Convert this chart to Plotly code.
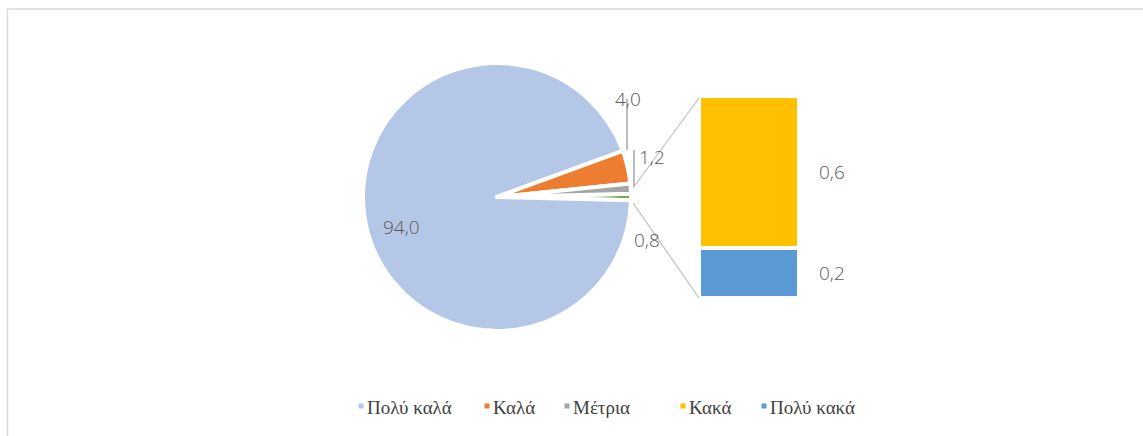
import math
import plotly.graph_objects as go

# ---- data -------------------------------------------------------------
pie_labels = ["Πολύ καλά", "Καλά", "Μέτρια"]
pie_values = [94.0, 4.0, 1.2]
bar_labels = ["Κακά", "Πολύ κακά"]
bar_values = [0.6, 0.2]
other_value = round(sum(bar_values), 1)  # "other" slice = sum of the bar part

# ---- styling ----------------------------------------------------------
pie_colors = ["#B4C7E7", "#ED7D31", "#A5A5A5"]
other_color = "#70AD47"
bar_colors = ["#FFC000", "#5B9BD5"]
label_color = "#595959"
label_font = dict(family="Open Sans", size=19, color=label_color, weight=300)
legend_font = dict(family="Liberation Serif, DejaVu Serif, serif", size=19, color="#404040")
W, H = 1143, 436

def fx(px):
    return px / W

def fy(py):
    return 1 - py / H

def fmt(v):
    return f"{v:.1f}".replace(".", ",")

# pie geometry (pixels)
cx, cy, r = 497, 197, 134
total = other_value + sum(pie_values)
half_other = 360 * other_value / total / 2

fig = go.Figure()

# pie: "other" slice centred on 3 o'clock, remaining slices clockwise after it
fig.add_trace(go.Pie(
    values=[other_value] + pie_values,
    labels=["Άλλα"] + pie_labels,
    marker=dict(colors=[other_color] + pie_colors, line=dict(color="white", width=4)),
    sort=False,
    direction="clockwise",
    rotation=90 - half_other,
    textinfo="none",
    hoverinfo="label+value",
    showlegend=False,
    domain=dict(x=[fx(cx - r), fx(cx + r)], y=[fy(cy + r), fy(cy - r)]),
))

# stacked bar breaking down the "other" slice (bottom segment first)
bar_left, bar_right, bar_top, bar_bottom = 699, 799, 96, 298
for lab, val, col in reversed(list(zip(bar_labels, bar_values, bar_colors))):
    fig.add_trace(go.Bar(
        x=[0], y=[val], name=lab, width=1,
        marker=dict(color=col, line=dict(color="white", width=4)),
        showlegend=False, hoverinfo="name+y",
        xaxis="x", yaxis="y",
    ))

annotations = []
shapes = []

# pie value labels (offsets from pie centre, px)
pie_label_pos = {
    "Πολύ καλά": (-96, 30),
    "Καλά": (131, -113),
    "Μέτρια": (155, -55),
}
for lab, val in zip(pie_labels, pie_values):
    dx, dy = pie_label_pos[lab]
    annotations.append(dict(
        x=fx(cx + dx), y=fy(cy + dy), xref="paper", yref="paper",
        text=fmt(val), showarrow=False, font=label_font,
    ))
annotations.append(dict(
    x=fx(cx + 150), y=fy(cy + 43), xref="paper", yref="paper",
    text=fmt(other_value), showarrow=False, font=label_font,
))

# leader lines for the small slices
for (x0, y0, y1) in [(130, -98, -47), (137, -47, -10)]:
    shapes.append(dict(
        type="line", xref="paper", yref="paper",
        x0=fx(cx + x0), y0=fy(cy + y0), x1=fx(cx + x0), y1=fy(cy + y1),
        line=dict(color="#A6A6A6", width=1.5),
    ))

# connector lines from the "other" slice to the bar
for sy, by in [(-9, bar_top + 2), (6, bar_bottom)]:
    shapes.append(dict(
        type="line", xref="paper", yref="paper",
        x0=fx(cx + r + 2), y0=fy(cy + sy), x1=fx(bar_left), y1=fy(by),
        line=dict(color="#BFBFBF", width=1.2),
    ))

# bar value labels, centred on each segment
base = 0.0
for val in reversed(bar_values):
    annotations.append(dict(
        x=0.5, y=base + val / 2, xref="x", yref="y", xshift=33,
        text=fmt(val), showarrow=False, font=label_font,
    ))
    base += val

# legend drawn as small squares + text
legend_items = list(zip(pie_labels + bar_labels, pie_colors + bar_colors))
legend_x = [361, 487, 567, 683, 764]
legend_y = 406
for (lab, col), lx in zip(legend_items, legend_x):
    shapes.append(dict(
        type="rect", xref="paper", yref="paper",
        x0=fx(lx - 2.5), x1=fx(lx + 2.5), y0=fy(legend_y + 2.5), y1=fy(legend_y - 2.5),
        fillcolor=col, line=dict(width=0),
    ))
    annotations.append(dict(
        x=fx(lx + 4), y=fy(legend_y + 1), xref="paper", yref="paper",
        xanchor="left", yanchor="middle", text=lab, showarrow=False,
        font=legend_font,
    ))

# chart frame
shapes.append(dict(
    type="rect", xref="paper", yref="paper",
    x0=fx(7.5), y0=fy(H + 10), x1=fx(W + 10), y1=fy(9),
    line=dict(color="#D9D9D9", width=1.5), fillcolor="rgba(0,0,0,0)",
))

fig.update_layout(
    width=W, height=H,
    margin=dict(l=0, r=0, t=0, b=0),
    paper_bgcolor="white", plot_bgcolor="white",
    barmode="stack", bargap=0,
    xaxis=dict(domain=[fx(bar_left), fx(bar_right)], range=[-0.5, 0.5], visible=False, fixedrange=True),
    yaxis=dict(domain=[fy(bar_bottom), fy(bar_top)], range=[0, other_value], visible=False, fixedrange=True),
    annotations=annotations,
    shapes=shapes,
    showlegend=False,
)

fig.write_html("out.html")
